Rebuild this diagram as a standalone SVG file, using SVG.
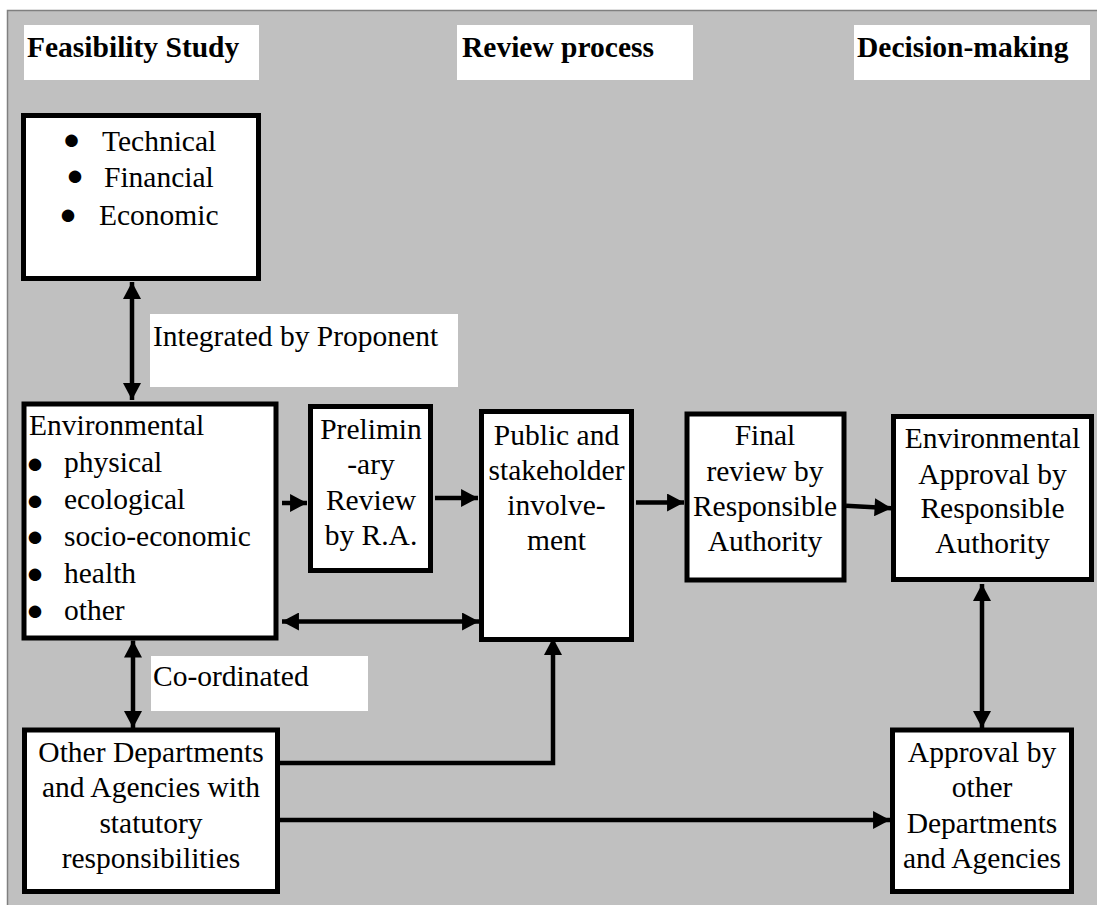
<svg xmlns="http://www.w3.org/2000/svg" width="1097" height="905" viewBox="0 0 1097 905">
  <defs>
    <style>
      .bg { fill: #C0C0C0; stroke: #808080; stroke-width: 1.5; }
      .box { fill: #FFFFFF; stroke: #000000; stroke-width: 5; }
      .lbl { fill: #FFFFFF; stroke: none; }
      .t { font-family: "Liberation Serif", "Times New Roman", serif; font-size: 29.5px; fill: #000000; }
      .b { font-family: "Liberation Serif", "Times New Roman", serif; font-size: 29px; fill: #000000; text-anchor: middle; }
      .h { font-family: "Liberation Serif", "Times New Roman", serif; font-size: 29.5px; font-weight: bold; fill: #000000; }
      .c { text-anchor: middle; }
      .conn { fill: none; stroke: #000000; stroke-width: 4.5; }
    </style>
    <marker id="arr" markerUnits="userSpaceOnUse" markerWidth="18" markerHeight="18" viewBox="0 0 16 17" refX="16" refY="8.5" orient="auto-start-reverse">
      <path d="M0,0 L16,8.5 L0,17 Z" fill="#000000"/>
    </marker>
  </defs>

  <rect class="bg" x="7.5" y="10.5" width="1095" height="900"/>

  <g id="header-feasibility">
    <rect class="lbl" x="24" y="25" width="235" height="55"/>
    <text class="h" x="27" y="57">Feasibility Study</text>
  </g>
  <g id="header-review">
    <rect class="lbl" x="457" y="25" width="236" height="55"/>
    <text class="h" x="462" y="57">Review process</text>
  </g>
  <g id="header-decision">
    <rect class="lbl" x="854" y="25" width="236" height="55"/>
    <text class="h" x="857" y="57">Decision-making</text>
  </g>

  <g id="connectors">
    <line class="conn" x1="132" y1="282" x2="132" y2="400" marker-start="url(#arr)" marker-end="url(#arr)"/>
    <line class="conn" x1="282" y1="503" x2="307" y2="503" marker-end="url(#arr)"/>
    <line class="conn" x1="435" y1="498" x2="478" y2="498" marker-end="url(#arr)"/>
    <line class="conn" x1="282" y1="621.5" x2="479" y2="621.5" marker-start="url(#arr)" marker-end="url(#arr)"/>
    <line class="conn" x1="636" y1="502.5" x2="684" y2="502.5" marker-end="url(#arr)"/>
    <line class="conn" x1="846" y1="505.7" x2="891.5" y2="508.3" marker-end="url(#arr)"/>
    <line class="conn" x1="982" y1="584" x2="982" y2="728" marker-start="url(#arr)" marker-end="url(#arr)"/>
    <line class="conn" x1="133" y1="640.5" x2="133" y2="728" marker-start="url(#arr)" marker-end="url(#arr)"/>
    <polyline class="conn" points="280,763 553,763 553,638" marker-end="url(#arr)"/>
    <line class="conn" x1="280" y1="820" x2="890" y2="820" marker-end="url(#arr)"/>
  </g>

  <g id="label-integrated">
    <rect class="lbl" x="150" y="314" width="308" height="73"/>
    <text class="t" x="153" y="346">Integrated by Proponent</text>
  </g>
  <g id="label-coordinated">
    <rect class="lbl" x="151" y="656" width="217" height="55"/>
    <text class="t" x="153" y="686">Co-ordinated</text>
  </g>

  <g id="node-feasibility">
    <rect class="box" x="23.5" y="115.5" width="235" height="163"/>
    <text class="b" x="71.5" y="149">●</text>
    <text class="t" x="102" y="150.5">Technical</text>
    <text class="b" x="75" y="185">●</text>
    <text class="t" x="104" y="187">Financial</text>
    <text class="b" x="68" y="224">●</text>
    <text class="t" x="99" y="224.5">Economic</text>
  </g>

  <g id="node-environmental">
    <rect class="box" x="24" y="404" width="252" height="234"/>
    <text class="t" x="29" y="435">Environmental</text>
    <text class="b" x="35" y="472.5">●</text>
    <text class="t" x="64" y="472">physical</text>
    <text class="b" x="35" y="509.5">●</text>
    <text class="t" x="64" y="508.5">ecological</text>
    <text class="b" x="35" y="546">●</text>
    <text class="t" x="64" y="545.5">socio-economic</text>
    <text class="b" x="35" y="582.5">●</text>
    <text class="t" x="64" y="582.5">health</text>
    <text class="b" x="35" y="620">●</text>
    <text class="t" x="64" y="620">other</text>
  </g>

  <g id="node-preliminary">
    <rect class="box" x="310.5" y="406.5" width="120" height="164"/>
    <text class="t c" x="371" y="439">Prelimin</text>
    <text class="t c" x="371" y="474">-ary</text>
    <text class="t c" x="371" y="510">Review</text>
    <text class="t c" x="371" y="545">by R.A.</text>
  </g>

  <g id="node-public">
    <rect class="box" x="481.5" y="411.5" width="150" height="228"/>
    <text class="t c" x="556.5" y="445">Public and</text>
    <text class="t c" x="556.5" y="480">stakeholder</text>
    <text class="t c" x="556.5" y="515">involve-</text>
    <text class="t c" x="556.5" y="549.5">ment</text>
  </g>

  <g id="node-final">
    <rect class="box" x="687" y="414" width="157" height="166"/>
    <text class="t c" x="765" y="445">Final</text>
    <text class="t c" x="765" y="480.5">review by</text>
    <text class="t c" x="765" y="516">Responsible</text>
    <text class="t c" x="765" y="550.5">Authority</text>
  </g>

  <g id="node-env-approval">
    <rect class="box" x="893.5" y="416.5" width="198" height="163"/>
    <text class="t c" x="992.5" y="448">Environmental</text>
    <text class="t c" x="992.5" y="483.5">Approval by</text>
    <text class="t c" x="992.5" y="518">Responsible</text>
    <text class="t c" x="992.5" y="553">Authority</text>
  </g>

  <g id="node-other-departments">
    <rect class="box" x="24.5" y="730" width="253" height="161.5"/>
    <text class="t c" x="151" y="761.5">Other Departments</text>
    <text class="t c" x="151" y="797">and Agencies with</text>
    <text class="t c" x="151" y="832.5">statutory</text>
    <text class="t c" x="151" y="867.5">responsibilities</text>
  </g>

  <g id="node-approval-other">
    <rect class="box" x="892.5" y="730" width="179" height="161.5"/>
    <text class="t c" x="982" y="761.5">Approval by</text>
    <text class="t c" x="982" y="797">other</text>
    <text class="t c" x="982" y="832.5">Departments</text>
    <text class="t c" x="982" y="868">and Agencies</text>
  </g>
</svg>
